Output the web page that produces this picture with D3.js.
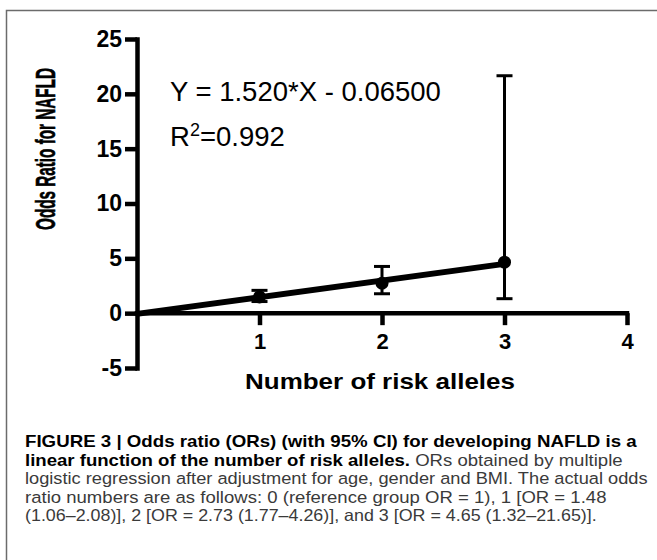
<!DOCTYPE html>
<html>
<head>
<meta charset="utf-8">
<script src="https://cdn.jsdelivr.net/npm/d3@7"></script>
<style>
  body { margin: 0; background: #fff; }
  svg { display: block; font-family: "Liberation Sans", Arial, sans-serif; }
</style>
</head>
<body>
<svg id="fig" width="657" height="560"></svg>
<script>
// data
var alleles = [1, 2, 3];
var oddsRatio = [1.48, 2.73, 4.65];
var ciLow = [1.06, 1.77, 1.32];
var ciHigh = [2.08, 4.26, 21.65];
var xTicks = [1, 2, 3, 4];
var yTicks = [-5, 0, 5, 10, 15, 20, 25];
var fitSlope = 1.520;
var fitIntercept = -0.06500;
var fitRange = [0, 3];
var captionLines = [
  [["FIGURE 3 | Odds ratio (ORs) (with 95% CI) for developing NAFLD is a", true]],
  [["linear function of the number of risk alleles.", true], [" ORs obtained by multiple", false]],
  [["logistic regression after adjustment for age, gender and BMI. The actual odds", false]],
  [["ratio numbers are as follows: 0 (reference group OR = 1), 1 [OR = 1.48", false]],
  [["(1.06\u20132.08)], 2 [OR = 2.73 (1.77\u20134.26)], and 3 [OR = 4.65 (1.32\u201321.65)].", false]]
];
var captionWidths = [612, 598, 623, 582, 572];

var svg = d3.select("#fig");

// frame of the figure box
svg.append("rect")
  .attr("x", 6.5).attr("y", 10.5)
  .attr("width", 700).attr("height", 600)
  .attr("fill", "none").attr("stroke", "#6b6b6b").attr("stroke-width", 1.5);

var x = d3.scaleLinear().domain([0, 4]).range([137, 627]);
var y = d3.scaleLinear().domain([-5, 25]).range([368, 39]);

var points = alleles.map(function(a, i){
  return {x: a, or: oddsRatio[i], lo: ciLow[i], hi: ciHigh[i]};
});

var plain = function(d){ return String(d); };

// y axis
var yAxis = svg.append("g")
  .attr("transform", "translate(" + x(0) + ",0)")
  .call(d3.axisLeft(y).tickValues(yTicks).tickFormat(plain)
    .tickSize(12).tickSizeOuter(0).tickPadding(3));

// x axis along y = 0
var xAxis = svg.append("g")
  .attr("transform", "translate(0," + y(0) + ")")
  .call(d3.axisBottom(x).tickValues(xTicks).tickFormat(plain)
    .tickSize(12).tickSizeOuter(0).tickPadding(8));
xAxis.select(".domain").attr("d", "M" + x(0) + ",0H" + x(4));

[yAxis, xAxis].forEach(function(ax){
  ax.select(".domain").attr("stroke", "#000").attr("stroke-width", 4.5).attr("stroke-linecap", "square");
  ax.selectAll(".tick line").attr("stroke", "#000").attr("stroke-width", 4.5);
  ax.selectAll(".tick text")
    .attr("fill", "#000")
    .style("font-size", "22px")
    .style("font-weight", "bold")
    .style("font-family", "'Liberation Sans', Arial, sans-serif");
});
yAxis.selectAll(".tick text").style("font-size", "23px");

// regression line
var fitLine = d3.line()
  .x(function(d){ return x(d); })
  .y(function(d){ return y(fitSlope * d + fitIntercept); });
svg.append("path")
  .attr("d", fitLine(fitRange))
  .attr("fill", "none").attr("stroke", "#000").attr("stroke-width", 6)
  .attr("stroke-linecap", "butt");

// error bars
var bars = svg.append("g").selectAll("g").data(points).enter().append("g");
bars.append("line")
  .attr("x1", function(d){ return x(d.x); }).attr("x2", function(d){ return x(d.x); })
  .attr("y1", function(d){ return y(d.lo); }).attr("y2", function(d){ return y(d.hi); })
  .attr("stroke", "#000").attr("stroke-width", 3);
["lo", "hi"].forEach(function(k){
  bars.append("line")
    .attr("x1", function(d){ return x(d.x) - 8; }).attr("x2", function(d){ return x(d.x) + 8; })
    .attr("y1", function(d){ return y(d[k]); }).attr("y2", function(d){ return y(d[k]); })
    .attr("stroke", "#000").attr("stroke-width", 3);
});
bars.append("circle")
  .attr("cx", function(d){ return x(d.x); })
  .attr("cy", function(d){ return y(d.or); })
  .attr("r", 6.5).attr("fill", "#000");

// equation text
svg.append("text")
  .attr("x", 170).attr("y", 101)
  .style("font-size", "27.5px")
  .text("Y = 1.520*X - 0.06500");
var r2 = svg.append("text")
  .attr("x", 170).attr("y", 146)
  .style("font-size", "27.5px");
r2.append("tspan").text("R");
r2.append("tspan").attr("dy", -10).style("font-size", "18px").text("2");
r2.append("tspan").attr("dy", 10).text("=0.992");

// fit a text to a given length by squeezing it along its run
function squeeze(sel, len){
  var w = sel.node().getComputedTextLength();
  return len / w;
}

// axis titles
var yTitle = svg.append("text")
  .attr("text-anchor", "middle")
  .attr("stroke", "#000").attr("stroke-width", 0.6)
  .style("font-size", "28px").style("font-weight", "bold")
  .text("Odds Ratio for NAFLD");
yTitle.attr("transform", "translate(55,149) rotate(-90) scale(" + squeeze(yTitle, 162) + ",1)");

var xTitle = svg.append("text")
  .attr("text-anchor", "middle")
  .style("font-size", "22px").style("font-weight", "bold")
  .text("Number of risk alleles");
xTitle.attr("transform", "translate(380,389) scale(" + squeeze(xTitle, 270) + ",1)");

// caption
captionLines.forEach(function(parts, i){
  var t = svg.append("text")
    .style("font-size", "16.5px");
  parts.forEach(function(p){
    t.append("tspan")
      .attr("fill", p[1] ? "#000" : "#3a3a3a")
      .style("font-weight", p[1] ? "bold" : "normal")
      .text(p[0]);
  });
  t.attr("transform", "translate(25," + (447 + i * 18.5) + ") scale(" + squeeze(t, captionWidths[i]) + ",1)");
});
</script>
</body>
</html>
